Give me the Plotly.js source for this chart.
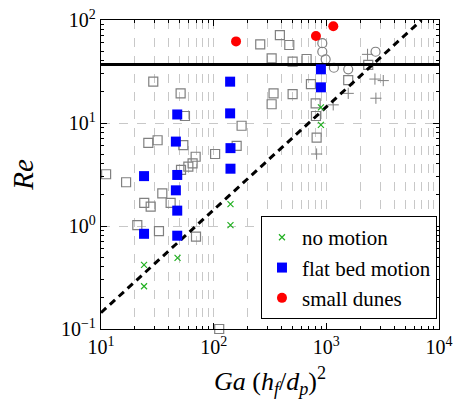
<!DOCTYPE html>
<html>
<head>
<meta charset="utf-8">
<script src="https://cdn.plot.ly/plotly-3.0.1.min.js"></script>
<style>html,body{margin:0;padding:0;background:#fff;}#chart{width:456px;height:407px;}</style>
</head>
<body>
<div id="chart"></div>
<script>
// ---- data ----
const noMotionX = [24.1, 24.1, 47.8, 141, 141, 895, 895];
const noMotionY = [0.42, 0.26, 0.49, 1.63, 1.02, 14.2, 9.6];

const flatBedX = [140, 47.5, 140, 46.2, 141, 141, 24.1, 47.5, 46.2, 47.5, 24.1, 47.5, 895, 895];
const flatBedY = [25.2, 12.1, 12.4, 6.6, 5.7, 3.6, 3.05, 3.13, 2.22, 1.41, 0.84, 0.805, 33.2, 22.2];

const dunesX = [158, 809, 1153];
const dunesY = [62, 70, 87];

const graySqX = [259, 327, 29.1, 50.9, 340, 327, 55.6, 177, 26.3, 31.8, 53.8, 160, 69.2, 103, 65, 59.6, 51.3, 11.1, 16.7, 35, 24.2, 27.6, 41.5, 21, 32.7, 69.7, 112, 387, 469, 502, 668, 730, 1564, 2355, 502, 804, 809, 820];
const graySqY = [58, 42.5, 25.2, 19.4, 19.4, 15.2, 11.7, 9.4, 6.4, 6.8, 6.1, 6.0, 4.7, 5.0, 4.06, 3.77, 3.5, 3.18, 2.66, 2.07, 1.68, 1.54, 1.68, 1.02, 0.89, 0.79, 0.1, 71.4, 57.2, 39.4, 41.8, 23.9, 26.1, 36.6, 19.1, 15.5, 11.7, 7.2];

const grayCircX = [921, 921, 986, 1167, 1564, 2735];
const grayCircY = [59.5, 49.2, 41.5, 34.4, 33.2, 49.2];

const grayPlusX = [2322, 2700, 3200, 1564, 1151, 2754, 820];
const grayPlusY = [46.4, 26.7, 25.8, 19.4, 15, 17.4, 5.0];

const critLineX = [10, 7000];
const critLineY = [0.144, 100];
const reLimitX = [10, 10000];
const reLimitY = [37, 37];

const xTickVals = [10, 100, 1000, 10000];
const xTickText = ['10<sup>1</sup>', '10<sup>2</sup>', '10<sup>3</sup>', '10<sup>4</sup>'];
const yTickVals = [0.1, 1, 10, 100];
const yTickText = ['10<sup>\u22121</sup>', '10<sup>0</sup>', '10<sup>1</sup>', '10<sup>2</sup>'];

const legendNames = ['no motion', 'flat bed motion', 'small dunes'];

// minor tick positions (2..9 per decade)
function minorTicks(lo, hi) {
  const out = [];
  for (let e = lo; e < hi; e++) for (let m = 2; m <= 9; m++) out.push(m * Math.pow(10, e));
  return out;
}

const gray = '#808080';
const FONT = "'Liberation Serif', 'Times New Roman', 'DejaVu Serif', serif";

const traces = [
  {x: graySqX, y: graySqY, mode: 'markers', type: 'scatter', showlegend: false, cliponaxis: false,
   marker: {symbol: 'square-open', size: 9, color: gray, line: {color: gray, width: 1.2}}},
  {x: grayCircX, y: grayCircY, mode: 'markers', type: 'scatter', showlegend: false,
   marker: {symbol: 'circle-open', size: 9, color: gray, line: {color: gray, width: 1.2}}},
  {x: grayPlusX, y: grayPlusY, mode: 'markers', type: 'scatter', showlegend: false,
   marker: {symbol: 'cross-thin-open', size: 8, color: gray, line: {color: gray, width: 1}}},
  {x: critLineX, y: critLineY, mode: 'lines', type: 'scatter', showlegend: false,
   line: {color: 'black', width: 3, dash: '7px,5px'}},
  {x: reLimitX, y: reLimitY, mode: 'lines', type: 'scatter', showlegend: false,
   line: {color: 'black', width: 3}},
  {x: noMotionX, y: noMotionY, mode: 'markers', type: 'scatter', name: legendNames[0],
   marker: {symbol: 'x-thin-open', size: 6, color: '#22b022', line: {color: '#22b022', width: 1.2}}},
  {x: flatBedX, y: flatBedY, mode: 'markers', type: 'scatter', name: legendNames[1],
   marker: {symbol: 'square', size: 10, color: '#0000ff', line: {width: 0}}},
  {x: dunesX, y: dunesY, mode: 'markers', type: 'scatter', name: legendNames[2],
   marker: {symbol: 'circle', size: 10, color: '#ff0000', line: {width: 0}}}
];

const axisCommon = {
  type: 'log',
  showline: true, linecolor: 'black', linewidth: 1.2, mirror: 'allticks',
  ticks: 'inside', ticklen: 6, tickcolor: 'black', tickwidth: 1,
  tickmode: 'array',
  showgrid: true, gridcolor: '#c8c8c8', griddash: 'dash', gridwidth: 1,
  zeroline: false,
  tickfont: {family: FONT, size: 20, color: 'black'}
};

const layout = {
  width: 456, height: 407,
  margin: {l: 101, r: 17, t: 20, b: 78},
  paper_bgcolor: 'white', plot_bgcolor: 'white',
  font: {family: FONT, color: 'black'},
  xaxis: Object.assign({}, axisCommon, {
    range: [1, 4], tickvals: xTickVals, ticktext: xTickText,
    minor: {tickmode: 'array', tickvals: minorTicks(1, 4), ticks: 'inside', ticklen: 3, tickcolor: 'black',
            showgrid: true, gridcolor: '#c8c8c8', griddash: 'dash', gridwidth: 1},
    title: {text: '<i>Ga</i> (<i>h<sub>f</sub></i>/<i>d<sub>p</sub></i>)<sup>2</sup>', font: {family: FONT, size: 26}, standoff: 14}
  }),
  yaxis: Object.assign({}, axisCommon, {
    range: [-1, 2], tickvals: yTickVals, ticktext: yTickText,
    minor: {tickmode: 'array', tickvals: minorTicks(-1, 2), ticks: 'inside', ticklen: 3, tickcolor: 'black', showgrid: false},
    title: {text: '<i>Re</i>', font: {family: FONT, size: 29}, standoff: 18}
  }),
  legend: {
    x: 0.994, xanchor: 'right', y: 0.032, yanchor: 'bottom',
    bgcolor: 'white', bordercolor: 'black', borderwidth: 1,
    font: {family: FONT, size: 21, color: 'black'},
    tracegroupgap: 0, itemwidth: 30
  },
  showlegend: true
};

Plotly.newPlot('chart', traces, layout, {staticPlot: true, displayModeBar: false});
</script>
</body>
</html>
